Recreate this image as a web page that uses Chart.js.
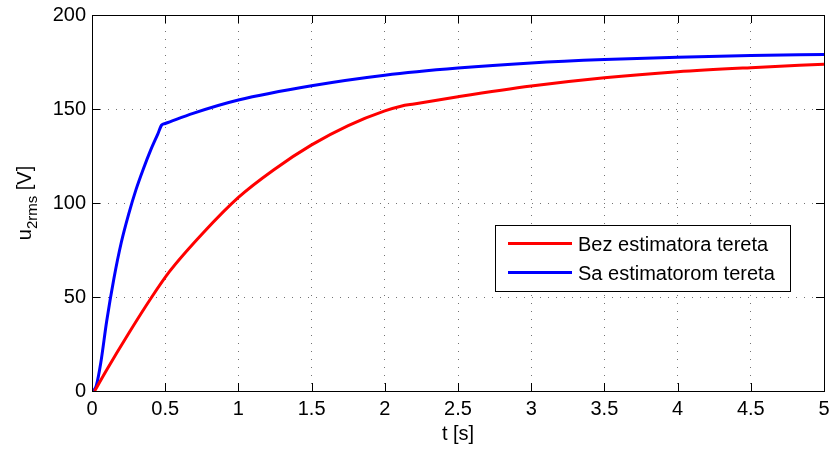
<!DOCTYPE html>
<html>
<head>
<meta charset="utf-8">
<script src="https://cdn.jsdelivr.net/npm/chart.js@4.4.1/dist/chart.umd.min.js"></script>
<style>
    html, body { margin: 0; padding: 0; background: #fff; }
    #wrap { width: 830px; height: 450px; }
</style>
</head>
<body>
<div id="wrap"><canvas id="myChart" width="830" height="450"></canvas></div>
<script>
// values
var seriesNames = ['Bez estimatora tereta', 'Sa estimatorom tereta'];

var redT = [0.018, 0.1, 0.25, 0.405, 0.53, 0.76, 1.0, 1.24, 1.5, 1.75, 2.0, 2.11, 2.2, 2.5, 3, 3.5, 4, 4.5, 5];
var redV = [0, 11.2, 30.6, 49.6, 63.6, 84.2, 103, 117.6, 130.9, 141.2, 149, 151.5, 152.7, 156.5, 162.2, 166.6, 169.8, 172, 173.8];

var blueT = [0.01, 0.03, 0.06, 0.1, 0.15, 0.2, 0.25, 0.3, 0.35, 0.4, 0.45, 0.476, 0.5, 0.69, 1.0, 1.5, 2.0, 2.5, 3, 3.5, 4, 4.5, 5];
var blueV = [0, 3, 15, 37, 60, 79, 94, 107, 118, 128, 136.8, 141.5, 142.3, 147.7, 154.8, 162.4, 168, 171.8, 174.5, 176.3, 177.5, 178.4, 179];

var xTicks = [0, 0.5, 1, 1.5, 2, 2.5, 3, 3.5, 4, 4.5, 5];
var yTicks = [0, 50, 100, 150, 200];

var FONT = '"Liberation Sans", Arial, Helvetica, sans-serif';

function toPoints(ts, vs) {
    return ts.map(function (t, i) { return { x: t, y: vs[i] }; });
}

// axes box, inward ticks, labels and legend (MATLAB look)
var matlabDecor = {
    id: 'matlabDecor',
    afterDatasetsDraw: function (chart) {
        var ctx = chart.ctx;
        var a = chart.chartArea;
        var xs = chart.scales.x, ys = chart.scales.y;
        var tl = 8;

        ctx.save();
        ctx.strokeStyle = '#000';
        ctx.lineWidth = 1;
        ctx.beginPath();
        xTicks.forEach(function (t) {
            var px = Math.round(xs.getPixelForValue(t)) + 0.5;
            ctx.moveTo(px, a.bottom); ctx.lineTo(px, a.bottom - tl);
            ctx.moveTo(px, a.top); ctx.lineTo(px, a.top + tl);
        });
        yTicks.forEach(function (v) {
            var py = Math.round(ys.getPixelForValue(v)) + 0.5;
            ctx.moveTo(a.left, py); ctx.lineTo(a.left + tl, py);
            ctx.moveTo(a.right, py); ctx.lineTo(a.right - tl, py);
        });
        ctx.stroke();
        ctx.strokeRect(Math.round(a.left) + 0.5, Math.round(a.top) + 0.5,
            Math.round(a.right - a.left), Math.round(a.bottom - a.top));
        ctx.restore();
    },
    afterDraw: function (chart) {
        var ctx = chart.ctx;
        var a = chart.chartArea;
        ctx.save();
        ctx.fillStyle = '#000';

        // x title
        ctx.font = '20px ' + FONT;
        ctx.textAlign = 'center';
        ctx.textBaseline = 'alphabetic';
        ctx.fillText('t [s]', (a.left + a.right) / 2, 440);

        // y title with subscript
        ctx.save();
        ctx.translate(31, (a.top + a.bottom) / 2);
        ctx.rotate(-Math.PI / 2);
        ctx.font = '20px ' + FONT;
        var w1 = ctx.measureText('u').width;
        var w3 = ctx.measureText(' [V]').width;
        ctx.font = '15px ' + FONT;
        var w2 = ctx.measureText('2rms').width;
        var x0 = -(w1 + w2 + w3) / 2;
        ctx.textAlign = 'left';
        ctx.font = '20px ' + FONT;
        ctx.fillText('u', x0, 0);
        ctx.font = '15px ' + FONT;
        ctx.fillText('2rms', x0 + w1, 6);
        ctx.font = '20px ' + FONT;
        ctx.fillText(' [V]', x0 + w1 + w2, 0);
        ctx.restore();

        // legend
        var bx = 495.5, by = 225.5, bw = 295, bh = 66;
        ctx.fillStyle = '#fff';
        ctx.fillRect(bx, by, bw, bh);
        ctx.strokeStyle = '#000';
        ctx.lineWidth = 1;
        ctx.strokeRect(bx, by, bw, bh);
        ctx.font = '20px ' + FONT;
        ctx.textAlign = 'left';
        ctx.textBaseline = 'alphabetic';
        chart.data.datasets.forEach(function (ds, i) {
            var ly = 243.5 + i * 29;
            ctx.strokeStyle = ds.borderColor;
            ctx.lineWidth = 3;
            ctx.beginPath();
            ctx.moveTo(508, ly);
            ctx.lineTo(572, ly);
            ctx.stroke();
            ctx.fillStyle = '#000';
            ctx.fillText(ds.label, 578, ly + 7);
        });
        ctx.restore();
    }
};

const ctx = document.getElementById('myChart');

new Chart(ctx, {
    type: 'line',
    data: {
        datasets: [{
            label: seriesNames[0],
            data: toPoints(redT, redV),
            borderColor: '#ff0000',
            borderWidth: 3,
            pointRadius: 0,
            cubicInterpolationMode: 'monotone',
            fill: false
        }, {
            label: seriesNames[1],
            data: toPoints(blueT, blueV),
            borderColor: '#0000ff',
            borderWidth: 3,
            pointRadius: 0,
            cubicInterpolationMode: 'monotone',
            fill: false
        }]
    },
    options: {
        responsive: false,
        animation: false,
        devicePixelRatio: 1,
        layout: { padding: { top: 15, right: 6, left: 0, bottom: 0 } },
        plugins: {
            legend: { display: false },
            tooltip: { enabled: false }
        },
        scales: {
            x: {
                type: 'linear',
                min: 0,
                max: 5,
                afterBuildTicks: function (axis) {
                    axis.ticks = xTicks.map(function (v) { return { value: v }; });
                },
                afterFit: function (axis) {
                    axis.height = 59;
                    axis.paddingLeft = 0;
                    axis.paddingRight = 0;
                },
                ticks: {
                    color: '#000',
                    font: { family: FONT, size: 20 },
                    padding: 6,
                    maxRotation: 0,
                    autoSkip: false,
                    callback: function (v) { return String(v); }
                },
                grid: {
                    color: 'rgba(0,0,0,0.55)',
                    lineWidth: 1,
                    drawTicks: false
                },
                border: { display: false, dash: [1, 7] }
            },
            y: {
                type: 'linear',
                min: 0,
                max: 200,
                afterBuildTicks: function (axis) {
                    axis.ticks = yTicks.map(function (v) { return { value: v }; });
                },
                afterFit: function (axis) {
                    axis.width = 92;
                    axis.paddingTop = 0;
                    axis.paddingBottom = 0;
                },
                ticks: {
                    color: '#000',
                    font: { family: FONT, size: 20 },
                    padding: 6,
                    autoSkip: false,
                    callback: function (v) { return String(v); }
                },
                grid: {
                    color: 'rgba(0,0,0,0.55)',
                    lineWidth: 1,
                    drawTicks: false
                },
                border: { display: false, dash: [1, 7] }
            }
        }
    },
    plugins: [matlabDecor]
});
</script>
</body>
</html>
